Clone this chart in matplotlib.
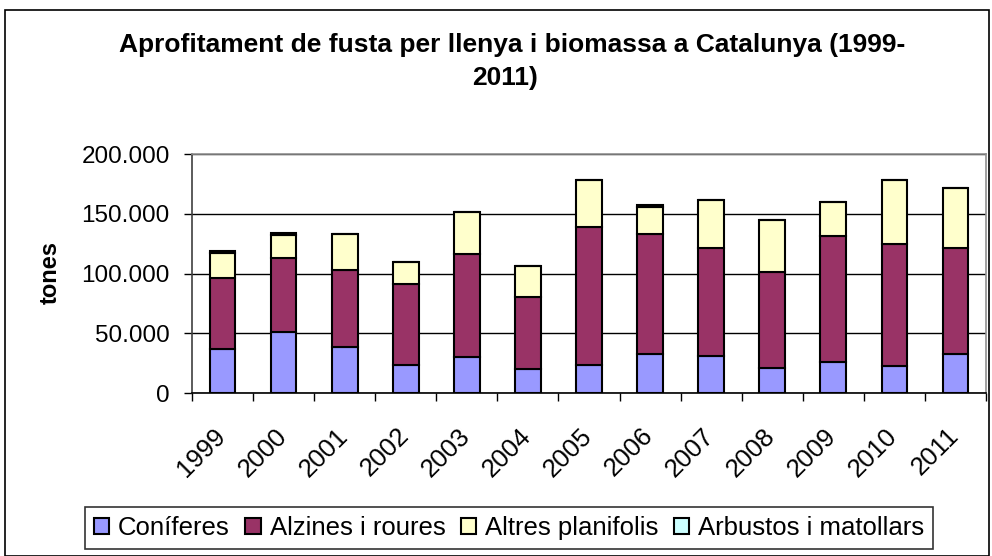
import numpy as np
import matplotlib
matplotlib.use("Agg")
import matplotlib.pyplot as plt
from matplotlib.patches import Rectangle
from matplotlib.transforms import ScaledTranslation

years = ["1999", "2000", "2001", "2002", "2003", "2004", "2005",
         "2006", "2007", "2008", "2009", "2010", "2011"]
coniferes = [36800, 50800, 38800, 23400, 30400, 20400, 23700,
             32400, 30700, 20600, 25700, 22300, 32400]
alzines = [59200, 61900, 63900, 67600, 85700, 60200, 115500,
           100400, 90700, 80400, 105400, 102400, 89000]
altres = [21400, 19800, 30400, 18400, 35400, 25700, 39100,
          23100, 40100, 43800, 28800, 53600, 50200]
arbustos = [1300, 1300, 0, 0, 0, 0, 0,
            1200, 0, 0, 0, 0, 0]

series = [("Coníferes", coniferes, "#9999FF"),
          ("Alzines i roures", alzines, "#993366"),
          ("Altres planifolis", altres, "#FFFFCC"),
          ("Arbustos i matollars", arbustos, "#CCFFFF")]

plt.rcParams['font.family'] = ['Liberation Sans', 'DejaVu Sans']

fig = plt.figure(figsize=(9.92, 5.56), dpi=100)
# chart area border
fig.patches.append(Rectangle((5 / 992, 0.0), 984 / 992, 1 - 10 / 556,
                             transform=fig.transFigure, fill=False,
                             edgecolor="black", linewidth=1.2))

ax = fig.add_axes([192 / 992, 1 - 393 / 556, 794 / 992, 239 / 556])
x = np.arange(len(years))
bottom = np.zeros(len(years))
for name, vals, col in series:
    ax.bar(x, vals, 0.42, bottom=bottom, color=col, edgecolor="black",
           linewidth=1.5, label=name, zorder=3)
    bottom = bottom + np.array(vals)

ax.set_xlim(-0.5, len(years) - 0.5)
ax.set_ylim(0, 200000)
ax.set_yticks([0, 50000, 100000, 150000, 200000])
ax.set_yticklabels(["0", "50.000", "100.000", "150.000", "200.000"], fontsize=17.5)
ax.yaxis.grid(True, color="black", linewidth=1, zorder=0)
ax.set_xticks(x)
ax.set_xticks(np.arange(-0.5, len(years)), minor=True)
ax.tick_params(axis="x", which="major", length=0, pad=22)
ax.tick_params(axis="x", which="minor", length=6, width=1, direction="out")
ax.tick_params(axis="y", length=6, width=1, direction="out", pad=10)
ax.set_xticklabels(years, fontsize=18.5, rotation=45, ha="right", va="top",
                   rotation_mode="anchor")
# labels end a little left of the bar centre
shift = ScaledTranslation(-9 / 100, 0, fig.dpi_scale_trans)
for lab in ax.get_xticklabels():
    lab.set_transform(lab.get_transform() + shift)

ax.spines["top"].set_color("#909090")
ax.spines["right"].set_color("#909090")
ax.spines["left"].set_color("#404040")
for s in ax.spines.values():
    s.set_linewidth(1.2)

fig.text(50 / 992, 1 - 272 / 556, "tones", rotation=90, ha="center", va="center",
         fontsize=17, fontweight="bold")

fig.text(512 / 992, 1 - 45 / 556, "Aprofitament de fusta per llenya i biomassa a Catalunya (1999-",
         ha="center", va="center", fontsize=19, fontweight="bold")
fig.text(505 / 992, 1 - 78 / 556, "2011)", ha="center", va="center",
         fontsize=19, fontweight="bold")

leg = fig.legend(loc="center", bbox_to_anchor=(509 / 992, 1 - 528 / 556),
                 ncol=4, fontsize=18.5, frameon=True, fancybox=False,
                 edgecolor="black", handlelength=0.6, handleheight=0.6,
                 handletextpad=0.35, columnspacing=0.6, borderpad=0.35)
leg.get_frame().set_linewidth(1.2)

fig.savefig("out.png", dpi=100)
